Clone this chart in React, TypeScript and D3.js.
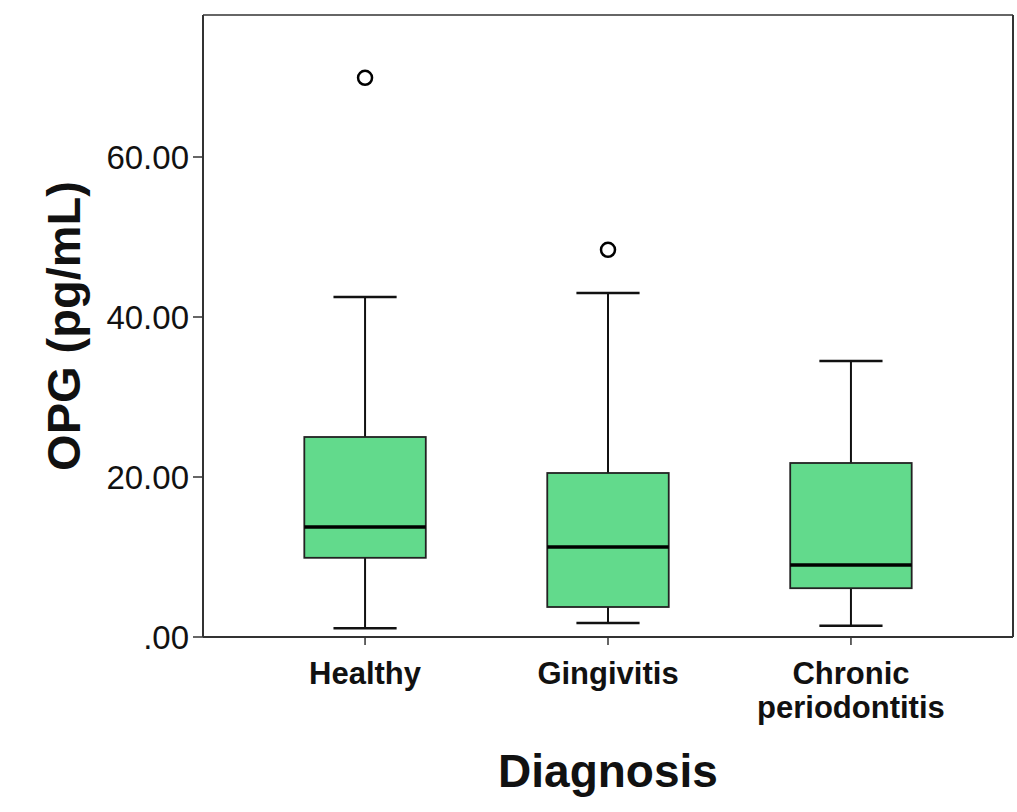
import React from "react";
import * as d3 from "d3";

const categories = ["Healthy", "Gingivitis", "Chronic periodontitis"];
const whiskerLow = [1.1, 1.75, 1.4];
const q1 = [9.9, 3.75, 6.1];
const median = [13.75, 11.25, 9.0];
const q3 = [25.0, 20.5, 21.75];
const whiskerHigh = [42.5, 43.0, 34.5];
const outliers: number[][] = [[69.9], [48.4], []];
const yTicks = [0, 20, 40, 60];
const yTickLabels = [".00", "20.00", "40.00", "60.00"];

const W = 1017;
const H = 812;
const left = 203;
const right = 1013;
const top = 15;
const bottom = 637;

export default function App() {
  const x = d3.scalePoint<string>().domain(categories).range([left, right]).padding(0.667);
  const y = d3.scaleLinear().domain([0, 77.75]).range([bottom, top]);
  const step = x.step();
  const boxW = step * 0.5;
  const capW = boxW * 0.52;
  const font = "'Liberation Sans', Arial, Helvetica, sans-serif";

  return (
    <svg
      width={W}
      height={H}
      style={{ position: "absolute", left: 0, top: 0, background: "#fff" }}
      fontFamily={font}
    >
      <rect x={0} y={0} width={W} height={H} fill="#fff" />
      {/* frame */}
      <line x1={left} x2={right} y1={top} y2={top} stroke="#666" strokeWidth={2} />
      <line x1={right} x2={right} y1={top} y2={bottom} stroke="#333" strokeWidth={2} />
      <line x1={left} x2={left} y1={top} y2={bottom} stroke="#333" strokeWidth={2} />
      <line x1={left} x2={right} y1={bottom} y2={bottom} stroke="#333" strokeWidth={2} />

      {/* y ticks */}
      {yTicks.map((t, i) => (
        <g key={t}>
          <line x1={left - 10} x2={left} y1={y(t)} y2={y(t)} stroke="#333" strokeWidth={1.5} />
          <text
            x={left - 14}
            y={y(t)}
            textAnchor="end"
            dominantBaseline="central"
            fontSize={33}
            fill="#111"
          >
            {yTickLabels[i]}
          </text>
        </g>
      ))}

      {/* x ticks and labels */}
      {categories.map((c) => {
        const cx = x(c)!;
        const words = c === "Chronic periodontitis" ? ["Chronic", "periodontitis"] : [c];
        return (
          <g key={c}>
            <line x1={cx} x2={cx} y1={bottom} y2={bottom + 8} stroke="#333" strokeWidth={1.5} />
            {words.map((w, k) => (
              <text
                key={w}
                x={cx}
                y={684 + k * 34}
                textAnchor="middle"
                fontSize={31}
                fontWeight="bold"
                fill="#111"
              >
                {w}
              </text>
            ))}
          </g>
        );
      })}

      {/* boxes */}
      {categories.map((c, i) => {
        const cx = x(c)!;
        return (
          <g key={"b" + c}>
            <line x1={cx} x2={cx} y1={y(whiskerLow[i])} y2={y(q1[i])} stroke="#111" strokeWidth={2} />
            <line x1={cx} x2={cx} y1={y(q3[i])} y2={y(whiskerHigh[i])} stroke="#111" strokeWidth={2} />
            <line
              x1={cx - capW / 2}
              x2={cx + capW / 2}
              y1={y(whiskerLow[i])}
              y2={y(whiskerLow[i])}
              stroke="#111"
              strokeWidth={2.5}
            />
            <line
              x1={cx - capW / 2}
              x2={cx + capW / 2}
              y1={y(whiskerHigh[i])}
              y2={y(whiskerHigh[i])}
              stroke="#111"
              strokeWidth={2.5}
            />
            <rect
              x={cx - boxW / 2}
              y={y(q3[i])}
              width={boxW}
              height={y(q1[i]) - y(q3[i])}
              fill="#62da8c"
              stroke="#222"
              strokeWidth={1.8}
            />
            <line
              x1={cx - boxW / 2}
              x2={cx + boxW / 2}
              y1={y(median[i])}
              y2={y(median[i])}
              stroke="#000"
              strokeWidth={3.5}
            />
            {outliers[i].map((o, k) => (
              <circle key={k} cx={cx} cy={y(o)} r={7} fill="#fff" stroke="#000" strokeWidth={2.5} />
            ))}
          </g>
        );
      })}

      {/* axis titles */}
      <text
        x={608}
        y={787}
        textAnchor="middle"
        fontSize={46}
        fontWeight="bold"
        fill="#111"
      >
        Diagnosis
      </text>
      <text
        transform={`translate(80, 326) rotate(-90)`}
        textAnchor="middle"
        fontSize={47}
        fontWeight="bold"
        fill="#111"
      >
        OPG (pg/mL)
      </text>
    </svg>
  );
}
